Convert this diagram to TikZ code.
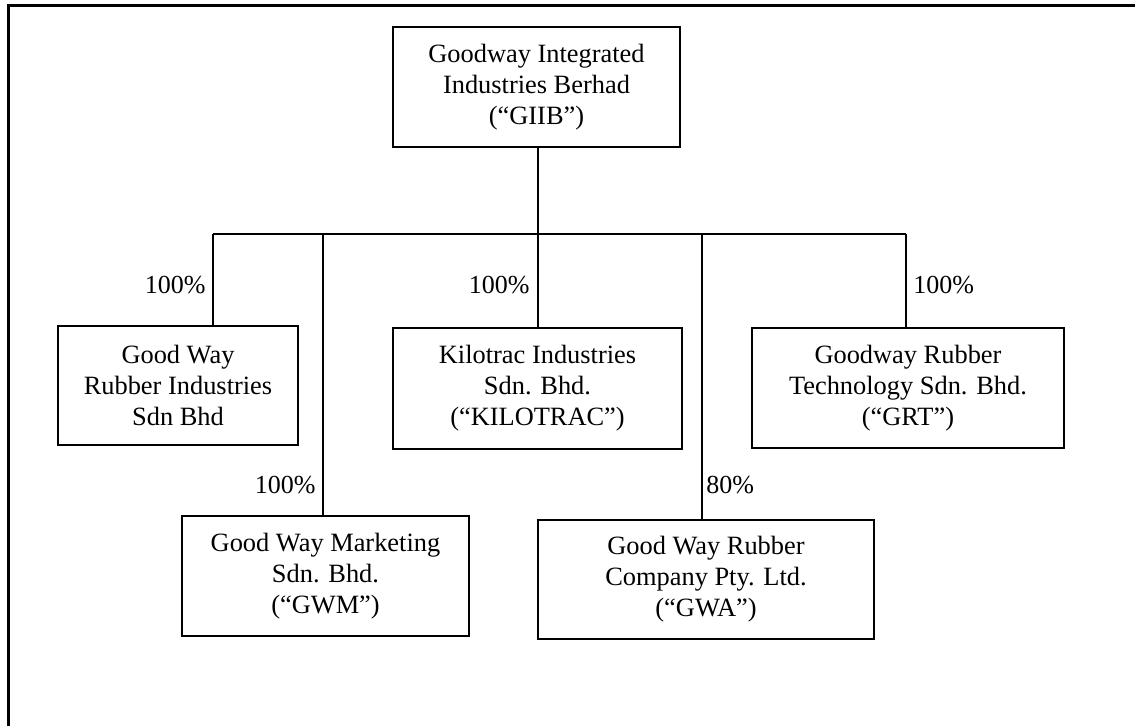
\documentclass[tikz,border=0pt]{standalone}
\usepackage{fontspec}
\setmainfont{Liberation Serif}
\usepackage{tikz}

\begin{document}
\begin{tikzpicture}[x=0.5pt,y=-0.5pt,
    company/.style={draw,line width=1.3pt,align=center,inner sep=0pt,
      font=\fontsize{13.2}{15.5}\selectfont},
    share/.style={inner sep=1pt,font=\fontsize{13}{15}\selectfont},
    link/.style={line width=1pt}]
  \useasboundingbox (0,0) rectangle (1135,726);
  % frame
  \draw[line width=1.5pt] (1135,6) -- (8,6) -- (8,726);
  % companies
  \node[company,minimum width=143.5pt,minimum height=60pt] (giib) at (536.5,87) {Goodway Integrated\\Industries Berhad\\(``GIIB'')};
  \node[company,minimum width=120pt,minimum height=59.5pt] (gwri) at (178,385.5) {Good Way\\Rubber Industries\\Sdn Bhd};
  \node[company,minimum width=144.5pt,minimum height=60.5pt] (kilo) at (537.5,388.5) {Kilotrac Industries\\Sdn. Bhd.\\(``KILOTRAC'')};
  \node[company,minimum width=156pt,minimum height=60pt] (grt) at (908,388) {Goodway Rubber\\Technology Sdn. Bhd.\\(``GRT'')};
  \node[company,minimum width=143.5pt,minimum height=60pt] (gwm) at (325.5,576) {Good Way Marketing\\Sdn. Bhd.\\(``GWM'')};
  \node[company,minimum width=168pt,minimum height=59.5pt] (gwa) at (706,579.5) {Good Way Rubber\\Company Pty. Ltd.\\(``GWA'')};
  % bus
  \coordinate (jgwri) at (213,234);
  \coordinate (jgwm) at (323,234);
  \coordinate (jkilo) at (538,234);
  \coordinate (jgwa) at (702,234);
  \coordinate (jgrt) at (906,234);
  \draw[link] (jgwri) -- (jgrt);
  \draw[link] (giib.south -| jkilo) -- (jkilo);
  \draw[link] (jgwri) -- (jgwri |- gwri.north);
  \draw[link] (jgwm) -- (jgwm |- gwm.north);
  \draw[link] (jkilo) -- (jkilo |- kilo.north);
  \draw[link] (jgwa) -- (jgwa |- gwa.north);
  \draw[link] (jgrt) -- (jgrt |- grt.north);
  % holdings
  \node[share,anchor=east] (pgwri) at (208,285) {100\%};
  \node[share,anchor=east] (pkilo) at (532,285) {100\%};
  \node[share,anchor=west] (pgrt) at (911,285) {100\%};
  \node[share,anchor=east] (pgwm) at (318,485) {100\%};
  \node[share,anchor=west] (pgwa) at (704,485) {80\%};
\end{tikzpicture}
\end{document}
